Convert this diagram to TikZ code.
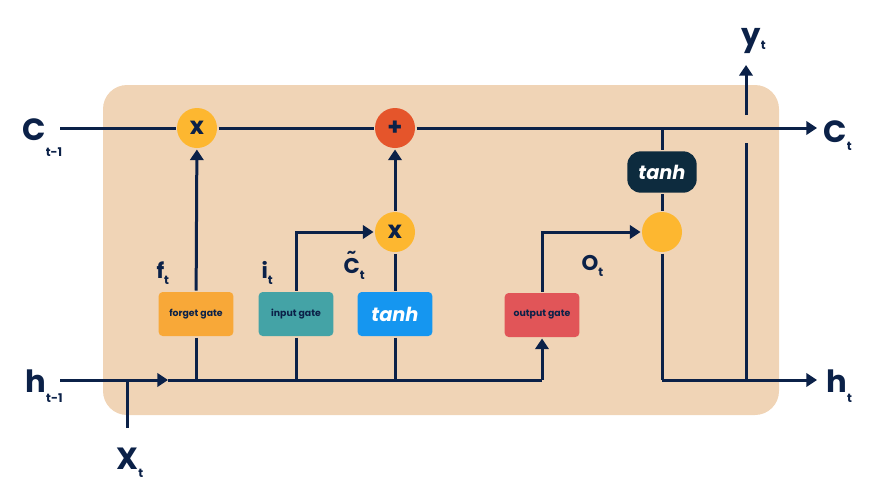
\documentclass[tikz,border=0pt]{standalone}
\usepackage{fontspec}
\setmainfont{Poppins}
\usetikzlibrary{arrows.meta,positioning}
\definecolor{navy}{HTML}{0B2148}
\definecolor{cellbg}{HTML}{F0D4B6}
\definecolor{sunny}{HTML}{FDB730}
\definecolor{tomato}{HTML}{E5552B}
\definecolor{forgetc}{HTML}{F8A838}
\definecolor{inputc}{HTML}{44A3A6}
\definecolor{tanhc}{HTML}{1596F0}
\definecolor{outputc}{HTML}{E15558}
\definecolor{darktanh}{HTML}{0D2B3E}
% big letter with a dropped subscript
\newcommand{\sym}[3][7.5pt]{{\fontsize{23}{23}\selectfont\bfseries #2}\raisebox{-#1}{\fontsize{9}{9}\selectfont\bfseries #3}}
\newcommand{\gsym}[2]{{\fontsize{16}{16}\selectfont\bfseries #1}\raisebox{-5pt}{\fontsize{9}{9}\selectfont\bfseries #2}}
% C with a small tilde over it
\newcommand{\tildeC}{\leavevmode\setbox0\hbox{C}\rlap{\hbox to \wd0{\hss\raisebox{12pt}{\fontsize{11}{11}\selectfont\char"7E}\hss}}\box0}

\begin{document}
\begin{tikzpicture}[x=0.75pt, y=-0.75pt, line width=2.25pt, draw=navy, text=navy,
  arr/.style={-{Triangle[length=8pt,width=10pt]}},
  gate/.style={rounded corners=3pt, minimum width=56pt, minimum height=33pt, inner sep=0pt, font=\fontsize{7}{7}\selectfont\bfseries},
  opcirc/.style={circle, fill=sunny, minimum size=30pt, inner sep=0pt, font=\fontsize{18}{18}\selectfont\bfseries},
  lbl/.style={anchor=base west, inner sep=0pt}]
\useasboundingbox (0,0) rectangle (884,493);
\fill[cellbg, rounded corners=18pt] (103,85) rectangle (779,415);

% operations
\node[opcirc] (mulf) at (197,128) {x};
\node[opcirc, fill=tomato] (plus) at (395,128) {+};
\node[opcirc] (mulc) at (395,232) {x};
\node[opcirc] (ocirc) at (662,232) {};
\node[gate, fill=darktanh, minimum width=52pt, minimum height=31pt, rounded corners=10pt, text=white, font=\fontsize{14.5}{14.5}\selectfont\bfseries\itshape] (tanhc) at (662,172) {tanh};

% gates
\node[gate, fill=forgetc] (forget) at (196,314) {forget gate};
\node[gate, fill=inputc] (input) at (296,314) {input gate};
\node[gate, fill=tanhc, text=white, font=\fontsize{14.5}{14.5}\selectfont\bfseries\itshape] (tanhg) at (395,314) {tanh};
\node[gate, fill=outputc] (output) at (542,315) {output gate};

% end points
\coordinate (cin) at (60,128);
\coordinate (cout) at (817,128);
\coordinate (ctap) at (662,128);
\coordinate (hin) at (60,380);
\coordinate (harr) at (168,380);
\coordinate (hout) at (817,380);
\coordinate (hjoin) at (662,380);
\coordinate (ybase) at (746,380);
\coordinate (ylow) at (746,143);
\coordinate (yhigh) at (746,115);
\coordinate (ytip) at (746,65);
\coordinate (xtop) at (127,380);
\coordinate (xbot) at (127,428);

% cell state
\draw (cin) -- (mulf);
\draw (mulf) -- (plus);
\draw[arr] (plus) -- (cout);
\draw (ctap) -- (tanhc);
\draw (tanhc) -- (ocirc);
\draw (ocirc) -- (hjoin);
\draw[arr] (hjoin) -- (hout);
\draw (ybase) -- (ylow);
\draw[arr] (yhigh) -- (ytip);

% hidden state
\draw[arr] (hin) -- (harr);
\draw (harr) -- (output |- hin);
\draw[arr] (output |- hin) -- (output.south);
\draw (xbot) -- (xtop);
\draw (forget.south) -- (forget |- hin);
\draw (input.south) -- (input |- hin);
\draw (tanhg.south) -- (tanhg |- hin);

% gate outputs
\draw[arr] (forget) -- (mulf);
\draw[arr] (input.north) |- (mulc);
\draw (tanhg) -- (mulc);
\draw[arr] (mulc) -- (plus);
\draw[arr] (output.north) |- (ocirc);

% labels
\node[lbl] (lcin) at (21,140) {\sym[12pt]{C}{t-1}};
\node[lbl] (lcout) at (822,142) {\sym[6pt]{C}{t}};
\node[lbl] (lhin) at (24,392) {\sym{h}{t-1}};
\node[lbl] (lhout) at (825,392) {\sym{h}{t}};
\node[lbl] (lx) at (115,469) {\sym[6pt]{X}{t}};
\node[lbl] (ly) at (740,45) {\sym[3pt]{y}{t}};
\node[lbl] (lf) at (155,278) {\gsym{f}{t}};
\node[lbl] (li) at (260,278) {\gsym{i}{t}};
\node[lbl] (lct) at (342,273) {\gsym{\tildeC}{t}};
\node[lbl] (lo) at (580,270) {\gsym{O}{t}};
\end{tikzpicture}
\end{document}
